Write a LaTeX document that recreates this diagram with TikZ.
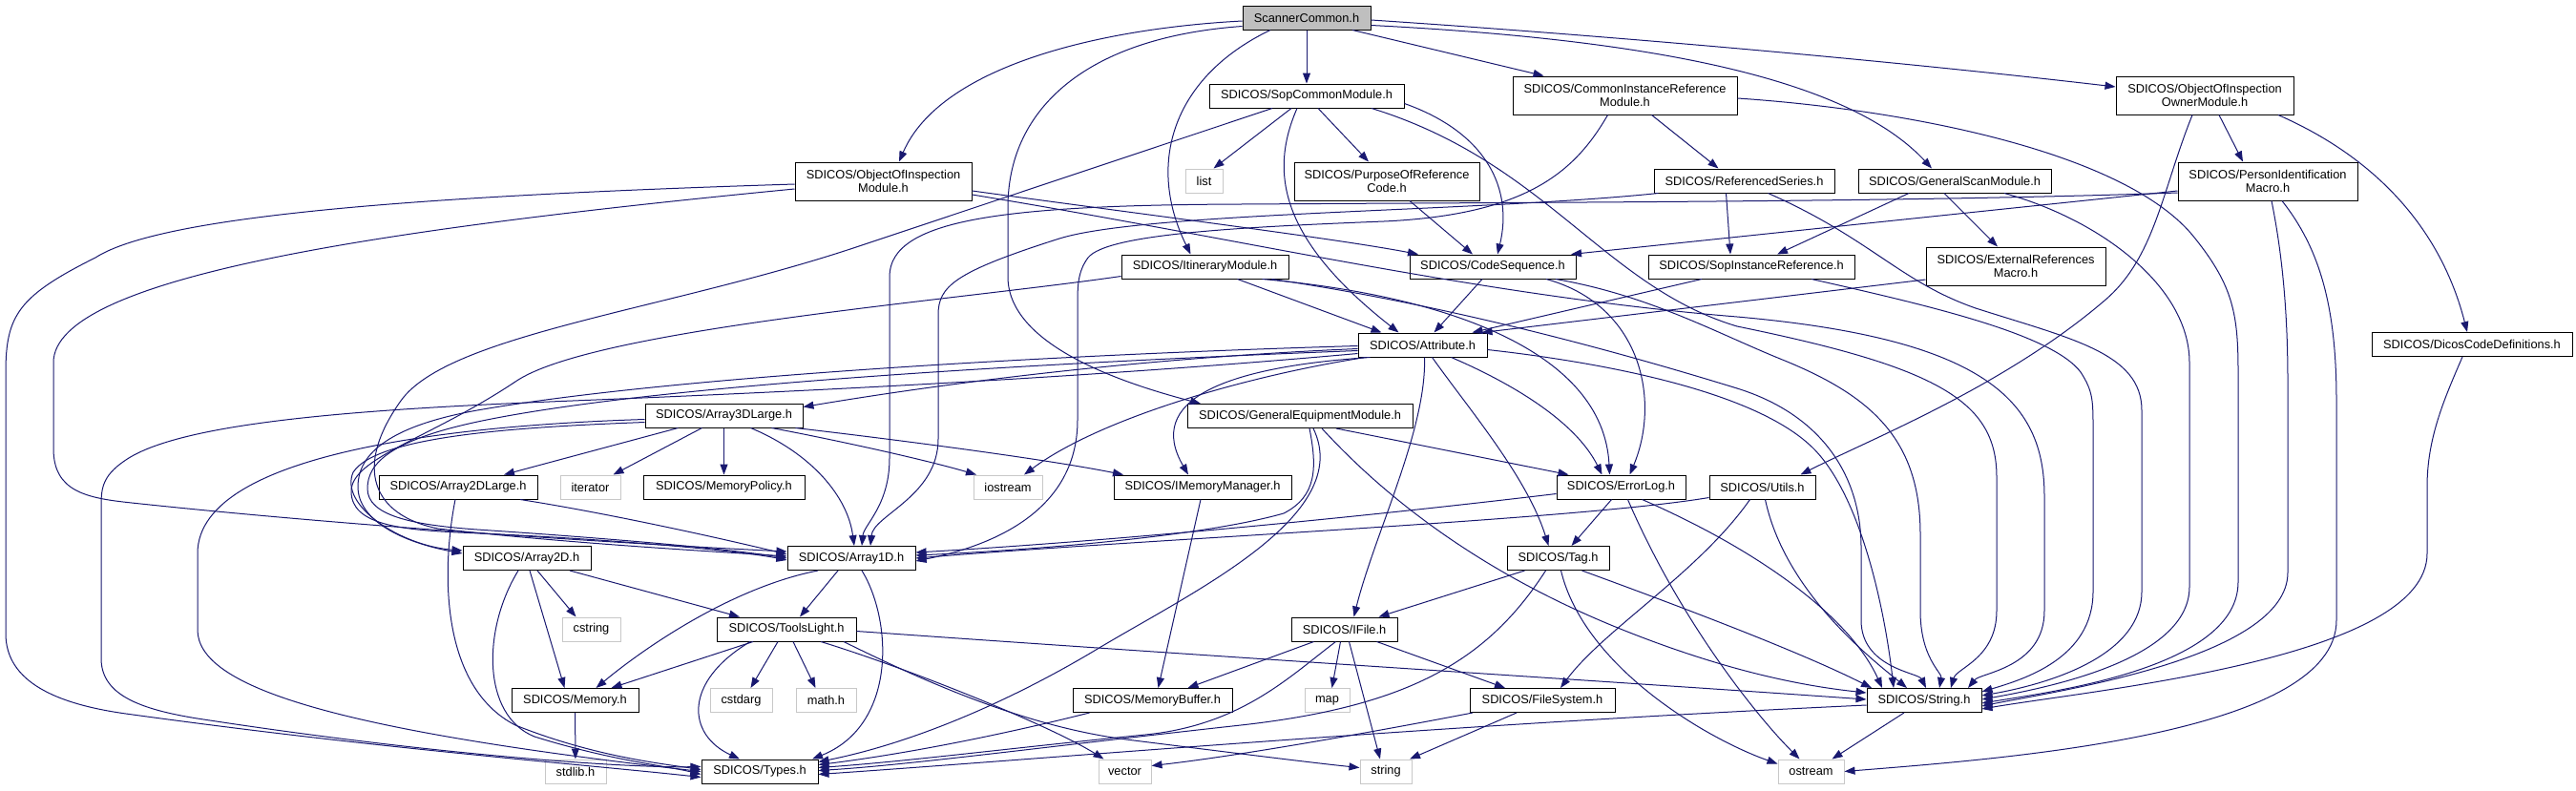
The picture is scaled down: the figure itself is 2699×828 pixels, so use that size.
\documentclass[tikz,border=0pt]{standalone}
\usepackage{fontspec}
\setmainfont{Liberation Sans}
\usetikzlibrary{arrows.meta}
\definecolor{edgec}{HTML}{191970}
\definecolor{sysc}{HTML}{C8C8C8}
\definecolor{rootc}{HTML}{BFBFBF}
\newcommand\dxfont{\fontsize{12.8}{14.7}\selectfont}
\begin{document}
\begin{tikzpicture}[x=1pt,y=-1pt,
  nd/.style={draw=black, line width=1pt, fill=white, inner sep=0pt, align=center, font=\dxfont, minimum height=25pt},
  two/.style={minimum height=40pt},
  sys/.style={nd, draw=sysc},
  root/.style={nd, fill=rootc},
  edg/.style={draw=edgec, line width=1pt, -{Triangle[length=11pt,width=8pt]}}]
\fill[white] (0,0) rectangle (2699,828);
\useasboundingbox (0,0) rectangle (2699,828);
% nodes
\node[root, minimum width=134pt] (SC) at (1369,18.5) {ScannerCommon.h};
\node[nd, minimum width=204pt] (SCM) at (1369,100.5) {SDICOS/SopCommonModule.h};
\node[nd, two, minimum width=235pt] (CIR) at (1702.5,100) {SDICOS/CommonInstanceReference\\Module.h};
\node[nd, two, minimum width=186pt] (OOIO) at (2310,100) {SDICOS/ObjectOfInspection\\OwnerModule.h};
\node[nd, two, minimum width=185pt] (OOIM) at (925.5,190) {SDICOS/ObjectOfInspection\\Module.h};
\node[sys, minimum width=39pt] (LIST) at (1261.5,189.5) {list};
\node[nd, two, minimum width=194pt] (POR) at (1453,190) {SDICOS/PurposeOfReference\\Code.h};
\node[nd, minimum width=189pt] (RS) at (1827.5,189.5) {SDICOS/ReferencedSeries.h};
\node[nd, minimum width=202pt] (GSM) at (2048,189.5) {SDICOS/GeneralScanModule.h};
\node[nd, two, minimum width=188pt] (PIM) at (2376,190) {SDICOS/PersonIdentification\\Macro.h};
\node[nd, minimum width=175pt] (ITM) at (1262.5,279.5) {SDICOS/ItineraryModule.h};
\node[nd, minimum width=174pt] (CS) at (1564,279.5) {SDICOS/CodeSequence.h};
\node[nd, minimum width=216pt] (SIR) at (1835,279.5) {SDICOS/SopInstanceReference.h};
\node[nd, two, minimum width=188pt] (ERM) at (2112,279) {SDICOS/ExternalReferences\\Macro.h};
\node[nd, minimum width=210pt] (DCD) at (2590,361) {SDICOS/DicosCodeDefinitions.h};
\node[nd, minimum width=135pt] (ATT) at (1490.5,361.5) {SDICOS/Attribute.h};
\node[nd, minimum width=165pt] (A3L) at (758.5,435.5) {SDICOS/Array3DLarge.h};
\node[nd, minimum width=236pt] (GEM) at (1362,436) {SDICOS/GeneralEquipmentModule.h};
\node[nd, minimum width=166pt] (A2L) at (480,510.5) {SDICOS/Array2DLarge.h};
\node[sys, minimum width=63pt] (ITR) at (618.5,510.5) {iterator};
\node[nd, minimum width=169pt] (MP) at (758.5,510.5) {SDICOS/MemoryPolicy.h};
\node[sys, minimum width=72pt] (IOS) at (1056,510.5) {iostream};
\node[nd, minimum width=186pt] (IMM) at (1260,510.5) {SDICOS/IMemoryManager.h};
\node[nd, minimum width=135pt] (EL) at (1698.5,510.5) {SDICOS/ErrorLog.h};
\node[nd, minimum width=111pt] (UT) at (1846.5,510.5) {SDICOS/Utils.h};
\node[nd, minimum width=134pt] (A2D) at (552,585) {SDICOS/Array2D.h};
\node[nd, minimum width=134pt] (A1D) at (892,585) {SDICOS/Array1D.h};
\node[nd, minimum width=107pt] (TAG) at (1632.5,585) {SDICOS/Tag.h};
\node[sys, minimum width=61pt] (CSTR) at (619.5,659.5) {cstring};
\node[nd, minimum width=146pt] (TL) at (824,659.5) {SDICOS/ToolsLight.h};
\node[nd, minimum width=111pt] (IF) at (1408.5,659.5) {SDICOS/IFile.h};
\node[nd, minimum width=133pt] (MEM) at (602.5,734) {SDICOS/Memory.h};
\node[sys, minimum width=65pt] (CSA) at (776.5,734) {cstdarg};
\node[sys, minimum width=63pt] (MATH) at (865.5,734) {math.h};
\node[nd, minimum width=167pt] (MB) at (1207.5,734) {SDICOS/MemoryBuffer.h};
\node[sys, minimum width=47pt] (MAP) at (1390.5,734) {map};
\node[nd, minimum width=152pt] (FS) at (1616,734) {SDICOS/FileSystem.h};
\node[nd, minimum width=120pt] (STR) at (2016,734) {SDICOS/String.h};
\node[sys, minimum width=64pt] (STDL) at (603,808.5) {stdlib.h};
\node[nd, minimum width=122pt] (TYP) at (796,808.5) {SDICOS/Types.h};
\node[sys, minimum width=55pt] (VEC) at (1178.5,808.5) {vector};
\node[sys, minimum width=54pt] (STRG) at (1452,808.5) {string};
\node[sys, minimum width=69pt] (OST) at (1897.5,808.5) {ostream};
% ScannerCommon
\draw[edg] ([yshift=-3.5]SC.west) .. controls (1150,30) and (985,70) .. ([xshift=16.5]OOIM.north);
\draw[edg] (SC) -- (SCM);
\draw[edg] ([xshift=48]SC.south) -- ([xshift=-85]CIR.north);
\draw[edg] ([yshift=-2.5]SC.east) .. controls (1650,35) and (1950,60) .. ([yshift=9]OOIO.west);
\draw[edg] ([yshift=-8]SC.east) .. controls (1700,40) and (1930,75) .. ([xshift=-24]GSM.north);
\draw[edg] ([xshift=-38]SC.south) .. controls (1230,80) and (1200,170) .. ([xshift=-15]ITM.north);
\draw[edg] ([yshift=-9]SC.west) .. controls (1130,40) and (1056,120) .. (1056,217) -- (1056,290) .. controls (1056,360) and (1170,400) .. ([xshift=-104]GEM.north);
% SopCommonModule
\draw[edg] ([xshift=-16]SCM.south) -- ([xshift=10]LIST.north);
\draw[edg] ([xshift=12]SCM.south) -- ([xshift=-19]POR.north);
\draw[edg] ([yshift=-8]SCM.east) .. controls (1560,140) and (1585,200) .. ([xshift=5]CS.north);
\draw[edg] ([xshift=-10]SCM.south) .. controls (1330,180) and (1340,250) .. ([xshift=-25]ATT.north);
\draw[edg] ([xshift=68]SCM.south) .. controls (1620,170) and (1680,300) .. (1820,342) .. controls (2030,385) and (2092,420) .. (2092,500) -- (2092,640) .. controls (2092,690) and (2050,700) .. ([xshift=28]STR.north);
\draw[edg] ([xshift=-36]SCM.south) -- (900,258) .. controls (700,325) and (470,350) .. (420,420) .. controls (370,490) and (390,540) .. (459,554) .. controls (600,570) and (750,578) .. ([yshift=2]A1D.west);
% ObjectOfInspectionModule
\draw[edg] ([yshift=-10]OOIM.east) .. controls (1200,225) and (1400,250) .. ([xshift=-78]CS.north);
\draw[edg] ([yshift=-14]OOIM.east) .. controls (1300,250) and (1550,310) .. (1820,332) .. controls (2080,355) and (2142,420) .. (2142,520) -- (2142,640) .. controls (2142,700) and (2075,705) .. ([xshift=46]STR.north);
\draw[edg] ([yshift=-8]OOIM.west) .. controls (400,240) and (56,290) .. (56,380) -- (56,470) .. controls (56,515) and (90,522) .. (138,527) .. controls (400,555) and (700,572) .. ([yshift=7]A1D.west);
\draw[edg] ([yshift=-3]OOIM.west) .. controls (450,205) and (170,225) .. (100,270) .. controls (20,310) and (6,330) .. (6,390) -- (6,664) .. controls (6,715) and (60,738) .. (132,748) .. controls (400,785) and (600,800) .. ([yshift=-6]TYP.west);
% CommonInstanceReferenceModule
\draw[edg] ([xshift=28]CIR.south) -- ([xshift=-27]RS.north);
\draw[edg] ([yshift=-3]CIR.east) .. controls (2000,115) and (2230,160) .. (2300,250) .. controls (2340,300) and (2345,330) .. (2345,390) -- (2345,610) .. controls (2345,700) and (2150,725) .. ([yshift=-3]STR.east);
\draw[edg] ([xshift=-18]CIR.south) .. controls (1650,180) and (1600,225) .. (1450,232) .. controls (1300,238) and (1160,245) .. (1140,270) .. controls (1129,285) and (1129,300) .. (1129,320) -- (1129,440) .. controls (1129,530) and (1050,570) .. ([yshift=-3]A1D.east);
% ReferencedSeries
\draw[edg] ([xshift=-19]RS.south) -- ([xshift=-22]SIR.north);
\draw[edg] ([xshift=25]RS.south) .. controls (1960,250) and (1990,295) .. (2070,323) .. controls (2170,355) and (2244,370) .. (2244,430) -- (2244,620) .. controls (2244,690) and (2140,718) .. ([yshift=5]STR.east);
\draw[edg] ([xshift=-90]RS.south) .. controls (1550,222) and (1200,222) .. (1110,250) .. controls (1000,285) and (983,300) .. (983,330) -- (983,460) .. controls (983,520) and (915,540) .. ([xshift=20]A1D.north);
% GeneralScanModule
\draw[edg] ([xshift=-48]GSM.south) -- ([xshift=27]SIR.north);
\draw[edg] ([xshift=-11]GSM.south) -- ([xshift=-19]ERM.north);
\draw[edg] ([xshift=52]GSM.south) .. controls (2200,230) and (2294,300) .. (2294,380) -- (2294,615) .. controls (2294,690) and (2150,720) .. ([yshift=1]STR.east);
% ObjectOfInspectionOwnerModule
\draw[edg] ([xshift=15]OOIO.south) -- ([xshift=-26]PIM.north);
\draw[edg] ([xshift=77]OOIO.south) .. controls (2500,170) and (2560,250) .. ([xshift=-5]DCD.north);
\draw[edg] ([xshift=-13]OOIO.south) .. controls (2265,200) and (2258,270) .. (2205,315) .. controls (2100,405) and (1960,460) .. ([xshift=40]UT.north);
% PersonIdentificationMacro
\draw[edg] ([yshift=-10]PIM.west) -- ([xshift=82]CS.north);
\draw[edg] ([yshift=-12]PIM.west) .. controls (2000,212) and (1600,212) .. (1300,214) .. controls (1050,215) and (932,230) .. (932,290) -- (932,480) .. controls (932,530) and (905,550) .. ([xshift=11]A1D.north);
\draw[edg] ([xshift=4]PIM.south) .. controls (2390,260) and (2397,320) .. (2397,400) -- (2397,600) .. controls (2397,690) and (2150,725) .. ([yshift=-6]STR.east);
\draw[edg] ([xshift=15]PIM.south) .. controls (2430,260) and (2448,320) .. (2448,420) -- (2448,650) .. controls (2448,770) and (2100,795) .. (OST.east);
% DicosCodeDefinitions
\draw[edg] ([xshift=-10]DCD.south) .. controls (2560,420) and (2543,460) .. (2543,510) -- (2543,580) .. controls (2543,690) and (2200,722) .. ([yshift=-9]STR.east);
% SopInstanceReference, ExternalReferences, PurposeOfReference
\draw[edg] ([xshift=-52]SIR.south) -- ([xshift=52]ATT.north);
\draw[edg] ([xshift=63]SIR.south) .. controls (2020,320) and (2150,350) .. (2180,390) .. controls (2193,410) and (2193,420) .. (2193,450) -- (2193,620) .. controls (2193,690) and (2120,712) .. ([yshift=9]STR.east);
\draw[edg] ([yshift=-14]ERM.west) -- ([xshift=62]ATT.north);
\draw[edg] ([xshift=24]POR.south) -- ([xshift=-21]CS.north);
% CodeSequence
\draw[edg] ([xshift=-11]CS.south) -- ([xshift=12]ATT.north);
\draw[edg] ([xshift=56]CS.south) .. controls (1720,320) and (1740,420) .. ([xshift=9]EL.north);
\draw[edg] ([xshift=66]CS.south) .. controls (1730,310) and (1800,350) .. (1870,378) .. controls (1960,415) and (2012,460) .. (2012,560) -- (2012,640) .. controls (2012,690) and (2035,705) .. ([xshift=16]STR.north);
% ItineraryModule
\draw[edg] ([xshift=34]ITM.south) -- ([xshift=-43]ATT.north);
\draw[edg] ([xshift=60]ITM.south) .. controls (1520,310) and (1680,370) .. ([xshift=-12]EL.north);
\draw[edg] ([xshift=70]ITM.south) .. controls (1520,320) and (1700,370) .. (1820,407) .. controls (1910,435) and (1950,500) .. (1950,574) -- (1950,650) .. controls (1950,700) and (2010,705) .. ([xshift=2]STR.north);
\draw[edg] ([yshift=-10]ITM.west) .. controls (1000,315) and (620,345) .. (540,400) .. controls (450,460) and (368,480) .. (368,515) .. controls (368,550) and (420,555) .. (480,558) .. controls (650,565) and (780,578) .. ([yshift=-2]A1D.west);
% Attribute
\draw[edg] ([yshift=-4]ATT.west) .. controls (1200,375) and (1000,400) .. ([yshift=9]A3L.east);
\draw[edg] ([xshift=-60]ATT.south) .. controls (1300,395) and (1150,440) .. ([xshift=17]IOS.north);
\draw[edg] ([xshift=-55]ATT.south) .. controls (1280,385) and (1200,420) .. ([xshift=-15]IMM.north);
\draw[edg] ([xshift=30]ATT.south) .. controls (1580,400) and (1650,440) .. ([xshift=-20]EL.north);
\draw[edg] ([xshift=10]ATT.south) .. controls (1540,430) and (1600,500) .. ([xshift=-10]TAG.north);
\draw[edg] ([xshift=2]ATT.south) .. controls (1495,450) and (1440,560) .. ([xshift=10]IF.north);
\draw[edg] ([yshift=-5]ATT.east) .. controls (1680,380) and (1840,410) .. (1900,470) .. controls (1950,520) and (1975,640) .. ([xshift=-32]STR.north);
\draw[edg] ([yshift=-1]ATT.west) .. controls (1100,372) and (700,395) .. (500,430) .. controls (400,448) and (375,480) .. (375,510) .. controls (375,545) and (420,568) .. ([yshift=5]A2D.west);
\draw[edg] ([yshift=-6]ATT.west) .. controls (1100,380) and (700,402) .. (510,440) .. controls (410,460) and (385,485) .. (385,512) .. controls (385,540) and (430,550) .. (500,555) .. controls (650,565) and (760,575) .. (A1D.west);
\draw[edg] ([yshift=-9]ATT.west) .. controls (1150,395) and (850,410) .. (600,420) .. controls (400,428) and (200,440) .. (135,480) .. controls (108,497) and (106,510) .. (106,530) -- (106,690) .. controls (106,730) and (150,745) .. (220,755) .. controls (450,790) and (650,805) .. ([yshift=5]TYP.west);
% Array3DLarge
\draw[edg] ([xshift=-48]A3L.south) -- ([xshift=48]A2L.north);
\draw[edg] ([xshift=-23]A3L.south) -- ([xshift=24]ITR.north);
\draw[edg] (A3L) -- (MP);
\draw[edg] ([xshift=28]A3L.south) .. controls (850,475) and (888,520) .. ([xshift=3]A1D.north);
\draw[edg] ([xshift=50]A3L.south) .. controls (880,462) and (970,482) .. ([xshift=-33]IOS.north);
\draw[edg] ([xshift=75]A3L.south) .. controls (950,462) and (1100,482) .. ([xshift=-83]IMM.north);
\draw[edg] ([yshift=-4]A3L.west) .. controls (500,445) and (207,470) .. (207,580) -- (207,660) .. controls (207,720) and (350,765) .. (TYP.west);
\draw[edg] ([yshift=-7]A3L.west) .. controls (560,447) and (395,455) .. (370,495) .. controls (355,530) and (420,572) .. ([yshift=8]A2D.west);
% Array2DLarge
\draw[edg] ([xshift=65]A2L.south) .. controls (650,540) and (780,570) .. ([yshift=4]A1D.west);
\draw[edg] ([xshift=-3]A2L.south) .. controls (462,600) and (462,720) .. (540,760) .. controls (620,792) and (690,800) .. ([yshift=2]TYP.west);
% Array2D
\draw[edg] ([xshift=11]A2D.south) -- ([xshift=-16]CSTR.north);
\draw[edg] ([xshift=3]A2D.south) -- ([xshift=-11]MEM.north);
\draw[edg] ([xshift=45]A2D.south) -- ([xshift=-49]TL.north);
\draw[edg] ([xshift=-9]A2D.south) .. controls (505,660) and (505,750) .. (560,772) .. controls (640,797) and (700,803) .. ([yshift=-3]TYP.west);
% Array1D
\draw[edg] ([xshift=-35]A1D.south) .. controls (770,615) and (680,675) .. ([xshift=22]MEM.north);
\draw[edg] ([xshift=-14]A1D.south) -- ([xshift=14]TL.north);
\draw[edg] ([xshift=11]A1D.south) .. controls (935,650) and (940,760) .. ([xshift=55]TYP.north);
% ToolsLight
\draw[edg] ([xshift=-35]TL.south) -- ([xshift=38]MEM.north);
\draw[edg] ([xshift=-9]TL.south) -- ([xshift=10]CSA.north);
\draw[edg] ([xshift=7]TL.south) -- ([xshift=-11]MATH.north);
\draw[edg] ([xshift=-38]TL.south) .. controls (715,715) and (720,770) .. ([xshift=-21]TYP.north);
\draw[edg] ([xshift=36]TL.south) .. controls (950,700) and (1100,760) .. ([xshift=-22]VEC.north);
\draw[edg] ([xshift=60]TL.south) .. controls (980,720) and (1080,762) .. (1180,775) .. controls (1300,790) and (1380,800) .. ([yshift=4]STRG.west);
\draw[edg] ([yshift=-2]TL.east) .. controls (1300,690) and (1700,715) .. ([yshift=1]STR.west);
% Memory, IMemoryManager, MemoryBuffer
\draw[edg] (MEM) -- (STDL);
\draw[edg] ([xshift=-2]IMM.south) -- ([xshift=6]MB.north);
\draw[edg] ([xshift=-66]MB.south) .. controls (1050,770) and (950,790) .. ([yshift=7]TYP.east);
% IFile
\draw[edg] ([xshift=-32]IF.south) -- ([xshift=37]MB.north);
\draw[edg] ([xshift=-4]IF.south) -- ([xshift=5]MAP.north);
\draw[edg] ([xshift=5]IF.south) -- ([xshift=-6]STRG.north);
\draw[edg] ([xshift=34]IF.south) -- ([xshift=-39]FS.north);
\draw[edg] ([xshift=-9]IF.south) .. controls (1350,710) and (1300,760) .. (1200,770) .. controls (1050,785) and (950,798) .. ([yshift=4]TYP.east);
% Tag
\draw[edg] ([xshift=-35]TAG.south) -- ([xshift=36]IF.north);
\draw[edg] ([xshift=-13]TAG.south) .. controls (1560,690) and (1480,740) .. (1300,760) .. controls (1100,782) and (950,802) .. ([yshift=1]TYP.east);
\draw[edg] ([xshift=25]TAG.south) .. controls (1800,650) and (1900,690) .. ([xshift=-55]STR.north);
\draw[edg] ([xshift=3]TAG.south) .. controls (1660,700) and (1790,775) .. ([yshift=8]OST.west);
% ErrorLog
\draw[edg] ([xshift=-10]EL.south) -- ([xshift=14]TAG.north);
\draw[edg] ([yshift=-7]EL.west) .. controls (1400,545) and (1150,568) .. ([yshift=6]A1D.east);
\draw[edg] ([xshift=22]EL.south) .. controls (1850,580) and (1940,650) .. ([xshift=-44]STR.north);
\draw[edg] ([xshift=7]EL.south) .. controls (1760,650) and (1840,750) .. ([xshift=-12]OST.north);
% Utils
\draw[edg] ([xshift=-13]UT.south) .. controls (1780,600) and (1680,660) .. ([xshift=19]FS.north);
\draw[edg] ([xshift=3]UT.south) .. controls (1870,620) and (1960,690) .. ([xshift=-18]STR.north);
\draw[edg] ([yshift=-11]UT.west) .. controls (1650,545) and (1200,565) .. (A1D.east);
% FileSystem, String
\draw[edg] ([xshift=-73]FS.south) .. controls (1450,765) and (1300,792) .. ([yshift=6]VEC.east);
\draw[edg] ([xshift=-27]FS.south) -- ([xshift=25]STRG.north);
\draw[edg] ([yshift=-5]STR.west) .. controls (1500,760) and (1100,795) .. ([yshift=-3]TYP.east);
\draw[edg] ([xshift=-21]STR.south) -- ([xshift=22]OST.north);
% GeneralEquipmentModule
\draw[edg] ([xshift=38]GEM.south) -- ([xshift=-55]EL.north);
\draw[edg] ([xshift=10]GEM.south) .. controls (1380,490) and (1380,520) .. (1345,538) .. controls (1250,565) and (1050,578) .. ([yshift=3]A1D.east);
\draw[edg] ([xshift=14]GEM.south) .. controls (1420,540) and (1250,620) .. (1150,680) .. controls (1050,740) and (950,780) .. ([yshift=10]TYP.east);
\draw[edg] ([xshift=23]GEM.south) .. controls (1450,520) and (1550,600) .. (1700,660) .. controls (1800,700) and (1880,718) .. ([yshift=8]STR.west);
\end{tikzpicture}
\end{document}
